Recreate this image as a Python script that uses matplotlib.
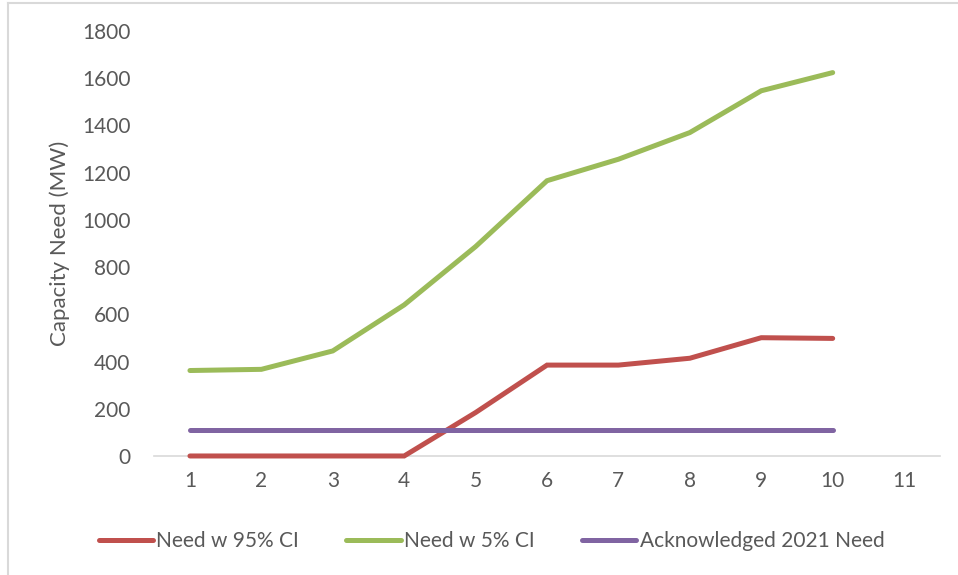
import matplotlib.pyplot as plt
from matplotlib.lines import Line2D

# Capacity need by year
years = [1, 2, 3, 4, 5, 6, 7, 8, 9, 10]
need_95 = [0, 0, 0, 0, 184, 385, 385, 414, 501, 498]
need_5 = [362, 367, 445, 640, 887, 1166, 1257, 1370, 1547, 1624]
ack_2021 = [110] * 10
x_ticks = list(range(1, 12))
y_ticks = list(range(0, 2000, 200))

plt.rcParams['font.family'] = ['Lato', 'DejaVu Sans']
TEXT = '#595959'

fig = plt.figure(figsize=(9.58, 5.75), dpi=100)
ax = fig.add_axes([0.161, 0.207, 0.82, 0.739])

ax.plot(years, need_95, color='#c0504d', lw=3.6, solid_capstyle='round',
        solid_joinstyle='miter', label='Need w 95% CI', clip_on=False, zorder=3)
ax.plot(years, need_5, color='#9bbb59', lw=3.6, solid_capstyle='round',
        solid_joinstyle='miter', label='Need w 5% CI', clip_on=False, zorder=3)
ax.plot(years, ack_2021, color='#8064a2', lw=3.6, solid_capstyle='round',
        label='Acknowledged 2021 Need', clip_on=False, zorder=3)

ax.set_xlim(0.5, 11.5)
ax.set_ylim(0, 1800)
ax.set_xticks(x_ticks)
ax.set_yticks(y_ticks)
ax.tick_params(length=0, labelsize=15, labelcolor=TEXT)
ax.tick_params(axis='x', pad=11)
ax.tick_params(axis='y', pad=17)
for side in ['top', 'right', 'left']:
    ax.spines[side].set_visible(False)
ax.spines['bottom'].set_color('#d9d9d9')
ax.spines['bottom'].set_linewidth(1.2)
ax.spines['bottom'].set_zorder(0)

ax.set_ylabel('Capacity Need (MW)', fontsize=16, color=TEXT, labelpad=9)

fig.legend(loc='center', bbox_to_anchor=(0.513, 0.059), ncol=3, frameon=False,
           fontsize=15, labelcolor=TEXT, handlelength=2.6, handletextpad=0.15,
           columnspacing=2.3)

# light frame on the left and top edges
fig.add_artist(Line2D([8 / 958, 8 / 958], [0, 1 - 3 / 575], color='#d9d9d9', lw=1.5,
                      transform=fig.transFigure))
fig.add_artist(Line2D([8 / 958, 1], [1 - 3 / 575, 1 - 3 / 575], color='#d9d9d9', lw=1.5,
                      transform=fig.transFigure))

fig.savefig('out.png', dpi=100)
